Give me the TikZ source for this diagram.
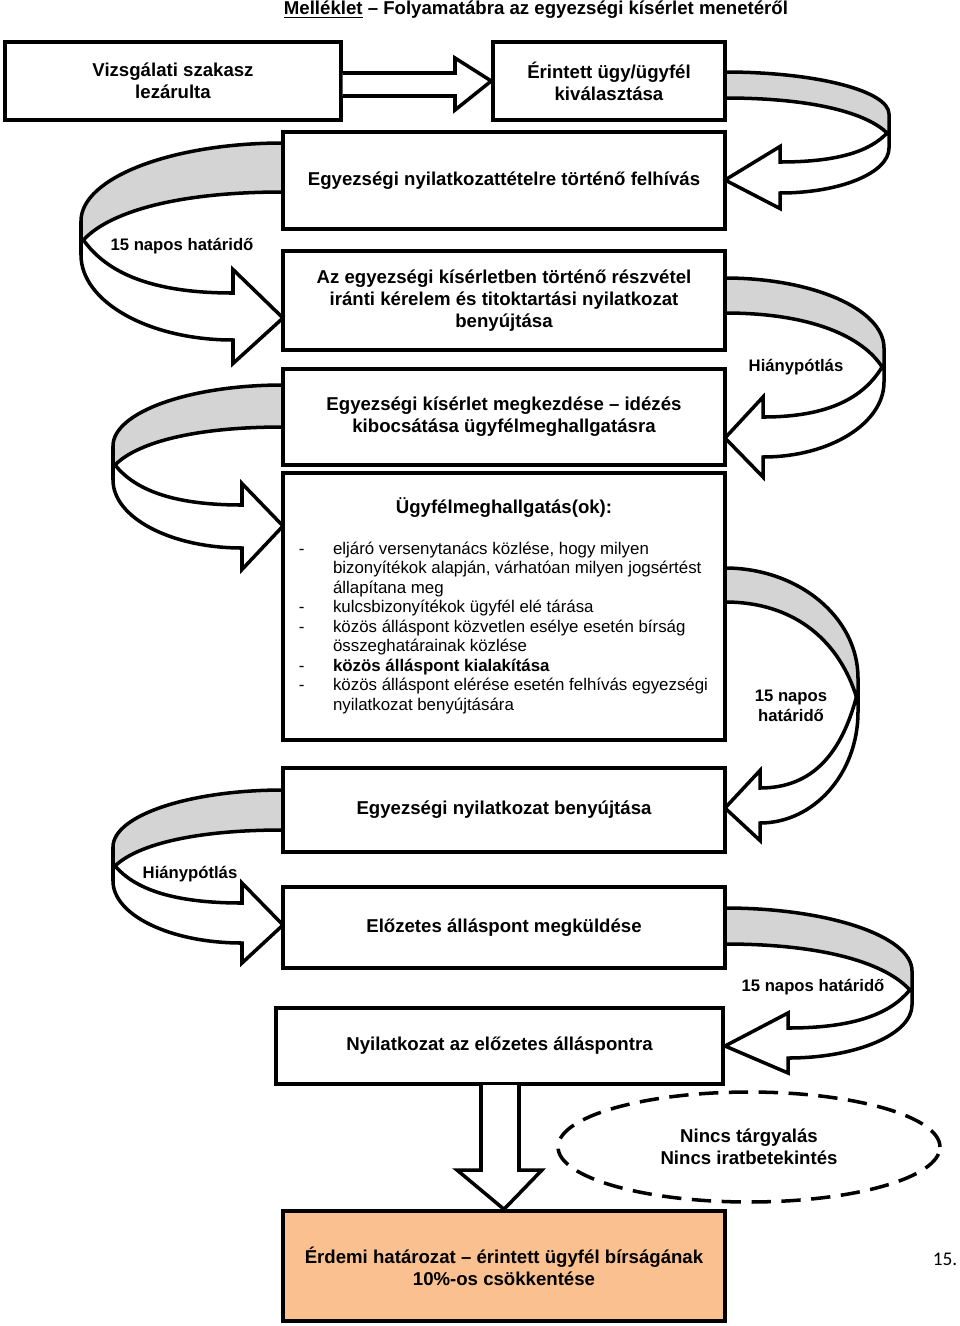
\documentclass[tikz,border=0pt]{standalone}
\usepackage{fontspec}
\setmainfont{Liberation Sans}
\newfontfamily\calib{Carlito}
\usetikzlibrary{shapes.geometric}
\definecolor{bandgray}{HTML}{D4D4D4}
\definecolor{peach}{HTML}{FAC090}
% #1 x0 (box edge), #2 xe (extreme), #3 xb (head base x), #4 yTop, #5 yInner,
% #6 yCross, #7 head inner y, #8 head outer y, #9 tip y
\newcommand\curvarr[9]{%
 \pgfmathsetmacro\cvW{#2-(#1)}%
 \pgfmathsetmacro\cvWb{#2-(#3)}%
 \pgfmathsetmacro\cvD{0.5*(#8-(#7))}%
 \pgfmathsetmacro\cvA{#6-19}%
 \pgfmathsetmacro\cvB{#6+15}%
 \pgfmathsetmacro\cvXc{#2-0.012*\cvW}%
 \filldraw[fill=white] (\cvXc,#6) -- (#2,#6) -- (#2,\cvB) .. controls (#2,{\cvB+0.552*(#8-\cvB)}) and ({#3+0.552*\cvWb},#8) .. (#3,#8)
   -- (#3,{#8+\cvD}) -- (#1,#9) -- (#3,{#7-\cvD}) -- (#3,#7)
   .. controls ({#3+0.55*\cvWb},#7) and ({\cvXc-0.15*\cvWb},{#6+0.6*(#7-#6)}) .. (\cvXc,#6) -- cycle;
 \filldraw[fill=bandgray] (#1,#4) .. controls ({#1+0.552*\cvW},#4) and (#2,{\cvA-0.552*(\cvA-#4)}) .. (#2,\cvA)
   -- (#2,#6) -- (\cvXc,#6)
   .. controls ({\cvXc-0.12*\cvW},{#6-0.55*(#6-#5)}) and ({#1+0.55*\cvW},#5) .. (#1,#5) -- cycle;
}
\begin{document}
\begin{tikzpicture}[x=0.02cm, y=-0.02cm, line width=2pt,
  box/.style={draw, fill=white, minimum width=8.84cm, inner sep=0pt, align=center,
    font=\bfseries\fontsize{10.6}{12.5}\selectfont},
  lbl/.style={font=\bfseries\fontsize{9.5}{11.5}\selectfont, align=center, inner sep=0pt}]
\useasboundingbox (0,0) rectangle (960,1326);

% title
\node[font=\bfseries\fontsize{10.6}{12.5}\selectfont, inner sep=0pt] (title) at (536,10)
  {\underline{Melléklet} – Folyamatábra az egyezségi kísérlet menetéről};

% curved arrows
\curvarr{725}{889}{780}{72}{98}{133}{162}{193}{180}
\curvarr{283}{81}{233}{143}{192}{240}{293}{340}{318}
\curvarr{725}{884}{763}{278}{313}{367}{417}{457}{438}
\curvarr{283}{113}{242}{385}{427}{465}{505}{548}{526}
\curvarr{725}{858}{760}{568}{602}{697}{788}{823}{808}
\curvarr{283}{113}{242}{790}{830}{866}{903}{943}{925}
\curvarr{725}{912}{788}{908}{944}{990}{1028}{1058}{1046}

% boxes
\node[box, minimum width=6.72cm, minimum height=1.56cm] (b1) at (173,81) {Vizsgálati szakasz\\lezárulta};
\node[box, minimum width=4.64cm, minimum height=1.56cm] (b2) at (609,81) {Érintett ügy/ügyfél\\kiválasztása};
\node[box, minimum height=1.94cm] (b3) at (504,180.5) {Egyezségi nyilatkozattételre történő felhívás};
\node[box, minimum height=1.98cm] (b4) at (504,300.5) {Az egyezségi kísérletben történő részvétel\\iránti kérelem és titoktartási nyilatkozat\\benyújtása};
\node[box, minimum height=1.92cm] (b5) at (504,417) {Egyezségi kísérlet megkezdése – idézés\\kibocsátása ügyfélmeghallgatásra};
\node[box, minimum height=5.34cm] (b6) at (504,606.5) {};
\node[box, minimum height=1.68cm] (b7) at (504,810) {Egyezségi nyilatkozat benyújtása};
\node[box, minimum height=1.62cm] (b8) at (504,927.5) {Előzetes álláspont megküldése};
\node[box, minimum width=8.94cm, minimum height=1.52cm] (b9) at (499.5,1046) {Nyilatkozat az előzetes álláspontra};
\node[box, fill=peach, minimum height=2.2cm] (b10) at (504,1266) {Érdemi határozat – érintett ügyfél bírságának\\10\%-os csökkentése};

% box 6 content
\node[font=\bfseries\fontsize{10.6}{12.5}\selectfont, inner sep=0pt] (b6title) at (504,508) {Ügyfélmeghallgatás(ok):};
\node[anchor=north west, inner sep=0pt, font=\fontsize{9.6}{11.1}\selectfont] (b6list) at (297,539) {%
\begin{tabular}{@{}p{19.5pt}@{}l@{}}
- & eljáró versenytanács közlése, hogy milyen\\
  & bizonyítékok alapján, várhatóan milyen jogsértést\\
  & állapítana meg\\
- & kulcsbizonyítékok ügyfél elé tárása\\
- & közös álláspont közvetlen esélye esetén bírság\\
  & összeghatárainak közlése\\
- & \textbf{közös álláspont kialakítása}\\
- & közös álláspont elérése esetén felhívás egyezségi\\
  & nyilatkozat benyújtására
\end{tabular}};

% straight block arrows
\draw[fill=white] (b1.east |- 0,73) -- (455,73) -- (455,58) -- (b2.west) -- (455,110) -- (455,96) -- (b1.east |- 0,96);
\draw[fill=white] (481,1085) -- (481,1170) -- (457,1170) -- (b10.north) -- (542,1170) -- (519,1170) -- (519,1085);

% ellipse
\node[draw, dash pattern=on 11pt off 6pt, ellipse, minimum width=7.64cm, minimum height=2.2cm,
  align=center, font=\bfseries\fontsize{10.6}{12.5}\selectfont] (ell) at (749,1147)
  {Nincs tárgyalás\\Nincs iratbetekintés};

% labels
\node[lbl] (l1) at (182,246) {15 napos határidő};
\node[lbl] (l2) at (796,367) {Hiánypótlás};
\node[lbl] (l3) at (791,706) {15 napos\\határidő};
\node[lbl] (l4) at (190,874) {Hiánypótlás};
\node[lbl] (l5) at (813,987) {15 napos határidő};

% page number
\node[font=\calib\fontsize{11}{13}\selectfont, inner sep=0pt] (pg) at (945,1259) {15.};
\end{tikzpicture}
\end{document}
